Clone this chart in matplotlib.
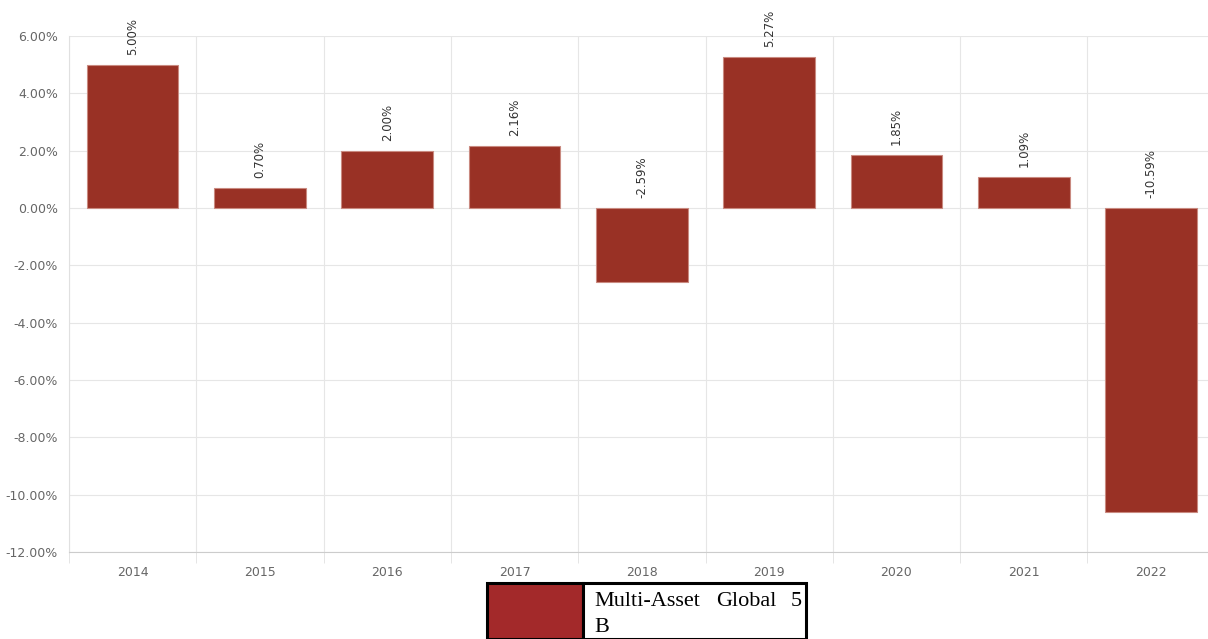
import matplotlib
matplotlib.use("Agg")
import matplotlib.pyplot as plt
from matplotlib.patches import Rectangle
from matplotlib.ticker import FixedLocator, FuncFormatter

years = ["2014", "2015", "2016", "2017", "2018", "2019", "2020", "2021", "2022"]
returns = [5.00, 0.70, 2.00, 2.16, -2.59, 5.27, 1.85, 1.09, -10.59]
series_name = "Multi-Asset Global 5 B"

W, H = 1208, 639
fig = plt.figure(figsize=(W / 100, H / 100), dpi=100)
ax_left, ax_top, ax_bot = 69, 36, 552
slot = 127.3
ax_w = slot * len(years)
ax = fig.add_axes([ax_left / W, 1 - ax_bot / H, ax_w / W, (ax_bot - ax_top) / H])

x = list(range(len(years)))
ax.bar(x, returns, width=0.72, color="#993125", edgecolor="#c98a80", linewidth=0.8, zorder=3)

ax.set_xlim(-0.5, len(years) - 0.5)
ax.set_ylim(-12, 6)
ax.yaxis.set_major_locator(FixedLocator([-12, -10, -8, -6, -4, -2, 0, 2, 4, 6]))
ax.yaxis.set_major_formatter(FuncFormatter(lambda v, p: f"{v:.2f}%"))
ax.set_xticks(x)
ax.set_xticklabels(years)
ax.set_xticks([i + 0.5 for i in range(-1, len(years))], minor=True)

ax.grid(axis="y", color="#e6e6e6", linewidth=0.8, zorder=0)
ax.grid(axis="x", which="minor", color="#e6e6e6", linewidth=0.8, zorder=0)
ax.grid(axis="x", which="major", visible=False)

for s in ["top", "right"]:
    ax.spines[s].set_visible(False)
ax.spines["left"].set_color("#e0e0e0")
ax.spines["bottom"].set_color("#cccccc")
ax.tick_params(axis="y", length=0, pad=8, labelsize=9, labelcolor="#666666")
ax.tick_params(axis="x", which="major", length=0, pad=10, labelsize=9, labelcolor="#666666")
ax.tick_params(axis="x", which="minor", length=8, color="#e0e0e0")

for xi, v in zip(x, returns):
    base = v if v > 0 else 0
    ax.annotate(f"{v:.2f}%", (xi, base), xytext=(0, 7), textcoords="offset points",
                rotation=90, ha="center", va="bottom", fontsize=8.5, color="#333333")

# legend box (manual)
lx0, lx1, ly0 = 487, 806, 583
sq = 583
fig.patches.append(Rectangle((lx0 / W, 0), (sq - lx0) / W, 1 - ly0 / H,
                             transform=fig.transFigure, facecolor="#a3292a",
                             edgecolor="black", linewidth=2.2))
fig.patches.append(Rectangle((sq / W, 0), (lx1 - sq) / W, 1 - ly0 / H,
                             transform=fig.transFigure, facecolor="white",
                             edgecolor="black", linewidth=2.2))
fig.text(594 / W, 1 - 602 / H, "Multi-Asset", family="Liberation Serif", fontsize=16, va="center", ha="left")
fig.text(716 / W, 1 - 602 / H, "Global", family="Liberation Serif", fontsize=16, va="center", ha="left")
fig.text(802 / W, 1 - 602 / H, "5", family="Liberation Serif", fontsize=16, va="center", ha="right")
fig.text(594 / W, 1 - 627 / H, "B", family="Liberation Serif", fontsize=16, va="center", ha="left")

fig.savefig("out.png", dpi=100)
